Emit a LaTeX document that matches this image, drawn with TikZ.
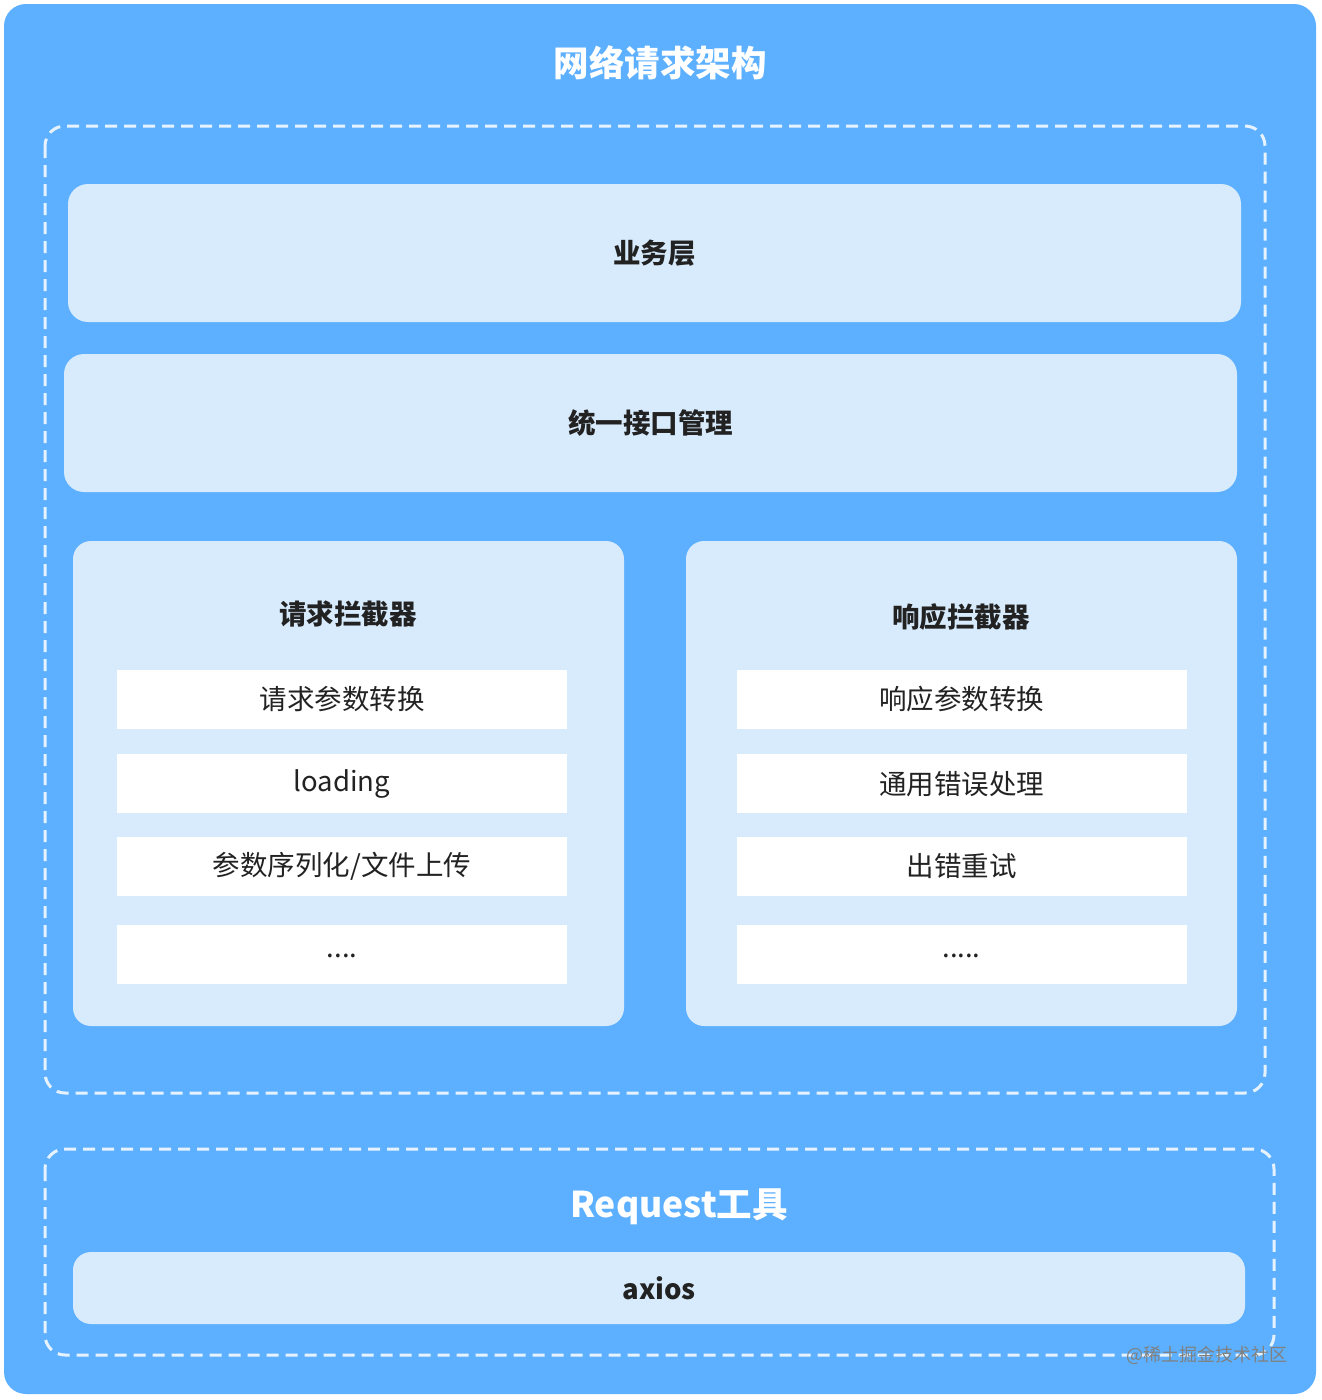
\documentclass[tikz,border=0pt]{standalone}
\usepackage{fontspec}
\setmainfont{Noto Sans CJK SC}
\usetikzlibrary{positioning}
\definecolor{bgblue}{HTML}{5CB0FF}
\definecolor{layerblue}{HTML}{D8EBFC}
\definecolor{dashwhite}{HTML}{E6F3FF}
\definecolor{inktext}{HTML}{222222}
\tikzset{
    x=1pt,
    y=-1pt,
    outerbox/.style={fill=bgblue, rounded corners=22pt},
    groupbox/.style={draw=dashwhite, line width=3pt, dash pattern=on 12pt off 7pt, rounded corners=20pt},
    layer/.style={fill=layerblue, rounded corners=20pt, inner sep=0pt, minimum height=138pt, text=inktext,
        font=\fontsize{27.5}{32}\selectfont\bfseries},
    interceptor/.style={fill=layerblue, rounded corners=18pt, inner sep=0pt, minimum width=551pt, minimum height=485pt},
    item/.style={fill=white, inner sep=0pt, minimum width=450pt, minimum height=59pt, text=inktext,
        font=\fontsize{27.5}{32}\selectfont},
    boxtitle/.style={text=inktext, font=\fontsize{27.5}{32}\selectfont\bfseries},
    bigtitle/.style={text=white, font=\fontsize{35.5}{42}\selectfont\bfseries},
}

\begin{document}
\begin{tikzpicture}
    \useasboundingbox (0,0) rectangle (1322,1400);
    \path[outerbox] (4,4) rectangle (1316,1394);

    \node[bigtitle] (title) at (660,63) {网络请求架构};

    % upper group
    \draw[groupbox] (45,126) rectangle (1265,1093);
    \node[layer, minimum width=1173pt] (biz) at (654.5,253) {业务层};
    \node[layer, minimum width=1173pt] (api) at (650.5,423) {统一接口管理};

    % request interceptor
    \node[interceptor] (reqbox) at (348.5,783.5) {};
    \node[boxtitle] (reqtitle) at (348,614) {请求拦截器};
    \node[item] (req1) at (342,699.5) {请求参数转换};
    \node[item, below=25pt of req1] (req2) {loading};
    \node[item, below=23pt of req2] (req3) {参数序列化/文件上传};
    \node[item, below=29pt of req3] (req4) {\raisebox{-6pt}{....}};

    % response interceptor
    \node[interceptor] (resbox) at (961.5,783.5) {};
    \node[boxtitle] (restitle) at (961,617) {响应拦截器};
    \node[item] (res1) at (961.5,699.5) {响应参数转换};
    \node[item, below=25pt of res1] (res2) {通用错误处理};
    \node[item, below=23pt of res2] (res3) {出错重试};
    \node[item, below=29pt of res3] (res4) {\raisebox{-6pt}{.....}};

    % request tool group
    \draw[groupbox] (45,1149) rectangle (1274,1355);
    \node[bigtitle] (tooltitle) at (679,1207) {Request工具};
    \node[layer, minimum width=1172pt, minimum height=72pt, rounded corners=18pt] (axios) at (659,1288) {axios};

    \node[text=black!50, font=\fontsize{18}{20}\selectfont] (mark) at (1207,1355) {@稀土掘金技术社区};
\end{tikzpicture}
\end{document}
